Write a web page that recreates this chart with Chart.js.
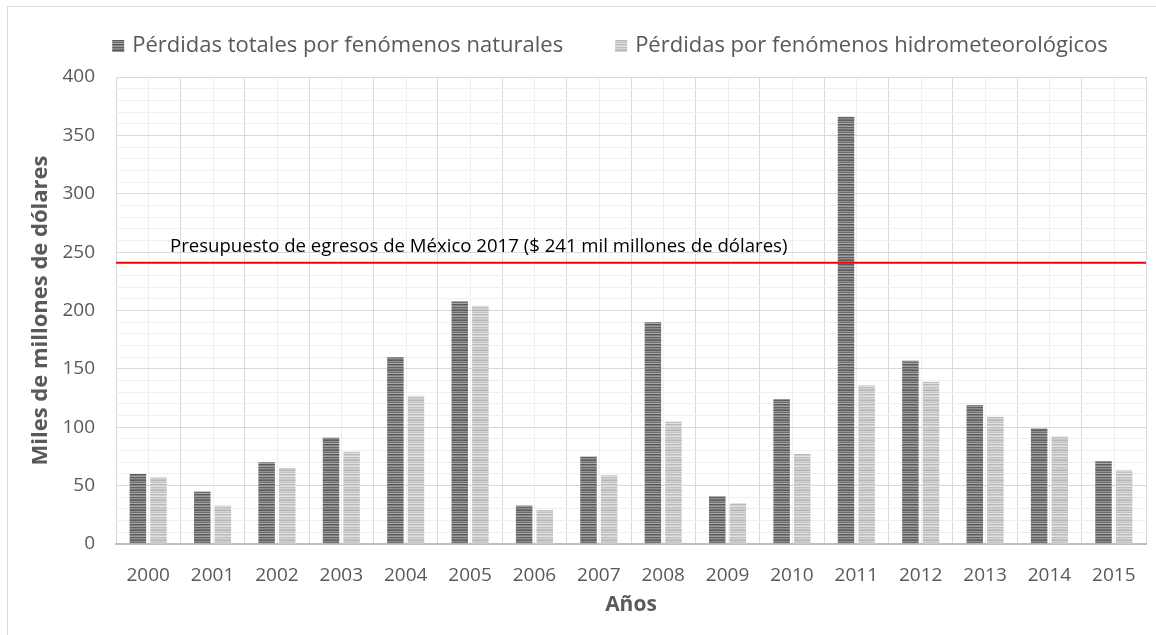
<!DOCTYPE html>
<html lang="es">
<head>
<meta charset="utf-8">
<title>Pérdidas por fenómenos naturales</title>
<script src="https://cdn.jsdelivr.net/npm/chart.js@4.4.1/dist/chart.umd.min.js"></script>
<style>
  html, body { margin: 0; padding: 0; background: #fff; }
  #wrap { position: relative; width: 1156px; height: 635px; overflow: hidden; }
  #frame { position: absolute; left: 7px; top: 6px; width: 1200px; height: 700px;
           border-left: 1px solid #d9d9d9; border-top: 1px solid #d9d9d9; pointer-events: none; }
  canvas { position: absolute; left: 0; top: 0; }
</style>
</head>
<body>
<div id="wrap">
  <canvas id="chart" width="1156" height="635"></canvas>
  <div id="frame"></div>
</div>
<script>
// data
const years = ["2000", "2001", "2002", "2003", "2004", "2005", "2006", "2007",
               "2008", "2009", "2010", "2011", "2012", "2013", "2014", "2015"];
const totalLosses = [60, 45, 70, 91, 160, 208, 33, 75, 190, 41, 124, 366, 157, 119, 99, 71];
const hydroLosses = [57, 33, 65, 79, 127, 204, 29, 59, 105, 35, 77, 136, 139, 109, 92, 63];
const seriesNames = ["Pérdidas totales por fenómenos naturales", "Pérdidas por fenómenos hidrometeorológicos"];
const budget = 241;
const budgetLabel = "Presupuesto de egresos de México 2017 ($ 241 mil millones de dólares)";
const yTitle = "Miles de millones de dólares";
const xTitle = "Años";

const FONT = "'Open Sans', 'Liberation Sans', sans-serif";
const TEXT = "#595959";

// striped fills like the original's texture
function stripes(rows) {
  const c = document.createElement("canvas");
  c.width = 4; c.height = rows.length;
  const g = c.getContext("2d");
  rows.forEach((col, i) => { g.fillStyle = col; g.fillRect(0, i, 4, 1); });
  return g.createPattern(c, "repeat");
}
const darkFill = stripes(["#5c5c5c", "#929292", "#6c6c6c", "#a8a8a8", "#575757",
                          "#838383", "#9e9e9e", "#626262", "#8c8c8c", "#747474"]);
const lightFill = stripes(["#b6b6b6", "#d4d4d4", "#c2c2c2", "#e0e0e0", "#bababa",
                           "#cecece", "#e2e2e2", "#bebebe", "#d2d2d2", "#c6c6c6"]);
const fills = [darkFill, lightFill];

// ─── Plugins ──────────────────────────────────────────────────────────────────
const minorGrid = {
  id: "minorGrid",
  beforeDraw(chart) {
    const { ctx, chartArea: a, scales: { x } } = chart;
    ctx.save();
    ctx.strokeStyle = "#efefef";
    ctx.lineWidth = 1;
    years.forEach((_, i) => {
      const px = Math.round(x.getPixelForValue(i)) + 0.5;
      ctx.beginPath(); ctx.moveTo(px, a.top); ctx.lineTo(px, a.bottom); ctx.stroke();
    });
    ctx.restore();
  }
};

const budgetLine = {
  id: "budgetLine",
  afterDatasetsDraw(chart) {
    const { ctx, chartArea: a, scales: { y } } = chart;
    const py = y.getPixelForValue(budget);
    ctx.save();
    ctx.strokeStyle = "#ff0000";
    ctx.lineWidth = 2;
    ctx.beginPath(); ctx.moveTo(a.left, py); ctx.lineTo(a.right, py); ctx.stroke();
    ctx.fillStyle = "#000";
    ctx.font = "18.6px " + FONT;
    ctx.textBaseline = "alphabetic";
    ctx.fillText(budgetLabel, a.left + 54, py - 11);
    ctx.restore();
  }
};

const topLegend = {
  id: "topLegend",
  afterDraw(chart) {
    const ctx = chart.ctx;
    ctx.save();
    ctx.font = "22px " + FONT;
    const box = 12, gap = 8, itemGap = 52;
    const widths = seriesNames.map(t => ctx.measureText(t).width);
    const total = widths.reduce((s, w) => s + box + gap + w, 0) + itemGap;
    let x = 610 - total / 2;
    const cy = 46;
    seriesNames.forEach((name, i) => {
      ctx.fillStyle = fills[i];
      ctx.fillRect(x, cy - box / 2, box, box);
      ctx.fillStyle = TEXT;
      ctx.textBaseline = "middle";
      ctx.fillText(name, x + box + gap, cy);
      x += box + gap + widths[i] + itemGap;
    });
    ctx.restore();
  }
};

// ─── Chart ────────────────────────────────────────────────────────────────────
new Chart(document.getElementById("chart"), {
  type: "bar",
  data: {
    labels: years,
    datasets: [
      { label: seriesNames[0], data: totalLosses, backgroundColor: darkFill,
        borderWidth: 0, categoryPercentage: 0.64, barPercentage: 0.8 },
      { label: seriesNames[1], data: hydroLosses, backgroundColor: lightFill,
        borderWidth: 0, categoryPercentage: 0.64, barPercentage: 0.8 }
    ]
  },
  options: {
    responsive: false,
    animation: false,
    layout: { padding: { top: 77, right: 10, bottom: 0, left: 0 } },
    plugins: { legend: { display: false }, tooltip: { enabled: false } },
    scales: {
      x: {
        grid: { offset: true, color: "#d9d9d9", drawTicks: false },
        border: { color: "#bfbfbf", width: 2 },
        ticks: { color: TEXT, font: { family: FONT, size: 19 }, padding: 20 },
        title: { display: true, text: xTitle, color: TEXT,
                 font: { family: FONT, size: 21, weight: "bold" }, padding: { top: 0, bottom: 17 } },
        afterFit(scale) { scale.height = 91; }
      },
      y: {
        min: 0, max: 400,
        grid: {
          drawTicks: false,
          color: c => (c.tick && c.tick.value % 50 === 0) ? "#d9d9d9" : "#f0f0f0"
        },
        border: { display: false },
        ticks: {
          stepSize: 10, autoSkip: false, color: TEXT, padding: 21,
          font: { family: FONT, size: 19 },
          callback: v => (v % 50 === 0 ? v : "")
        },
        title: { display: true, text: yTitle, color: TEXT,
                 font: { family: FONT, size: 22, weight: "bold" }, padding: { top: 28, bottom: 0 } },
        afterFit(scale) { scale.width = 116; }
      }
    }
  },
  plugins: [minorGrid, budgetLine, topLegend]
});
</script>
</body>
</html>
